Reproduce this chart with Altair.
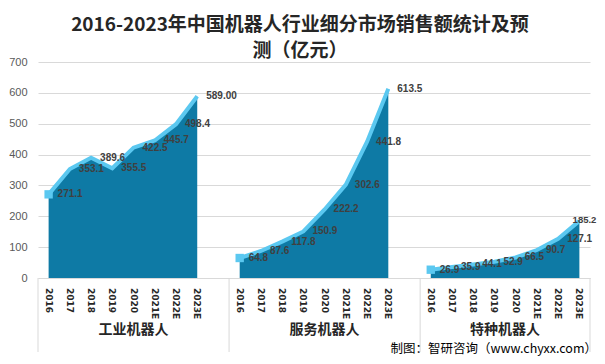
import altair as alt
import pandas as pd

groups = ["工业机器人", "服务机器人", "特种机器人"]
years = ["2016", "2017", "2018", "2019", "2020", "2021E", "2022E", "2023E"]
industrial = [271.1, 353.1, 389.6, 355.5, 422.5, 445.7, 498.4, 589.0]
service = [64.8, 87.6, 117.8, 150.9, 222.2, 302.6, 441.8, 613.5]
special = [26.9, 35.9, 44.1, 52.9, 66.5, 90.7, 127.1, 185.2]
industrial_labels = ["271.1", "353.1", "389.6", "355.5", "422.5", "445.7", "498.4", "589.00"]
service_labels = ["64.8", "87.6", "117.8", "150.9", "222.2", "302.6", "441.8", "613.5"]
special_labels = ["26.9", "35.9", "44.1", "52.9", "66.5", "90.7", "127.1", "185.2"]

series = [industrial, service, special]
labels = [industrial_labels, service_labels, special_labels]

rows = []
for g, (vals, labs) in enumerate(zip(series, labels)):
    for i, (v, l) in enumerate(zip(vals, labs)):
        rows.append({"group": groups[g], "year": years[i], "slot": 9 * g + i + 0.5,
                     "value": v, "label": l, "first": i == 0,
                     "edge": (g == 2 and i == 7)})
df = pd.DataFrame(rows)

sep_df = pd.DataFrame({"slot": [0, 9, 18, 26]})
grp_df = pd.DataFrame({"group": groups, "slot": [4.5, 13.5, 22.0]})

W, H = 552, 216

x_scale = alt.Scale(domain=[0, 26], nice=False, zero=False)
y_scale = alt.Scale(domain=[0, 700], nice=False)
x_axis = alt.Axis(labels=False, ticks=False, grid=False, domain=True, domainColor="#D9D9D9", title=None)

x_enc = alt.X("slot:Q", scale=x_scale, title=None, axis=x_axis)
y_enc = alt.Y("value:Q", scale=y_scale, title=None, stack=None,
              axis=alt.Axis(values=list(range(0, 701, 100)), gridColor="#D9D9D9",
                            domain=False, ticks=False, labelColor="#595959",
                            labelFontSize=11, labelPadding=11, labelFont="Liberation Sans",
                            labelOverlap=False))

base = alt.Chart(df).encode(x=x_enc, y=y_enc)
area = base.mark_area(color="#0E7AA5", opacity=1).encode(detail="group:N")
line = base.mark_line(color="#5BC8F0", strokeWidth=4).encode(detail="group:N")
pts = base.transform_filter("datum.first").mark_point(
    shape="square", filled=True, color="#5BC8F0", size=70, opacity=1)
txt = base.transform_filter("!datum.edge").mark_text(
    align="left", baseline="middle", dx=9, fontSize=10, fontWeight="bold",
    color="#404040", font="Liberation Sans").encode(text="label:N")
txt_edge = base.transform_filter("datum.edge").mark_text(
    align="right", baseline="middle", dx=17, dy=-1, fontSize=9.5, fontWeight="bold",
    color="#404040", font="Liberation Sans").encode(text="label:N")

xlab = alt.Chart(df).mark_text(angle=90, align="left", baseline="middle", fontSize=9,
                               fontWeight="bold", color="#262626", font="DejaVu Sans").encode(
    x=alt.X("slot:Q", scale=x_scale, axis=x_axis), y=alt.value(H + 10), text="year:N")

seps = alt.Chart(sep_df).mark_rule(color="#D9D9D9", strokeWidth=1).encode(
    x=alt.X("slot:Q", scale=x_scale, axis=x_axis), y=alt.value(H), y2=alt.value(H + 74))
grp = alt.Chart(grp_df).mark_text(fontSize=14, fontWeight="bold", color="#262626",
                                  font="Noto Sans CJK SC", baseline="middle").encode(
    x=alt.X("slot:Q", scale=x_scale, axis=x_axis), y=alt.value(H + 52), text="group:N")
src = alt.Chart(pd.DataFrame({"t": ["制图：智研咨询（www.chyxx.com）"]})).mark_text(
    fontSize=12.5, color="#000000", font="Noto Sans CJK SC", align="right", baseline="bottom").encode(
    x=alt.value(W + 7), y=alt.value(H + 78), text="t:N")

chart = alt.layer(area, line, pts, txt, txt_edge, xlab, seps, grp, src).properties(
    width=W, height=H,
    autosize=alt.AutoSizeParams(type="none"),
    padding={"left": 30, "top": 54, "right": 7, "bottom": 78},
    title=alt.TitleParams(["2016-2023年中国机器人行业细分市场销售额统计及预", "测（亿元）"],
                          fontSize=19, fontWeight="bold", color="#262626", font="Noto Sans CJK SC",
                          anchor="middle", frame="group", dx=-14, lineHeight=26, offset=-5),
    background="white",
).configure_view(stroke=None)

chart.save("out.html", embed_options={"renderer": "svg", "actions": False})
